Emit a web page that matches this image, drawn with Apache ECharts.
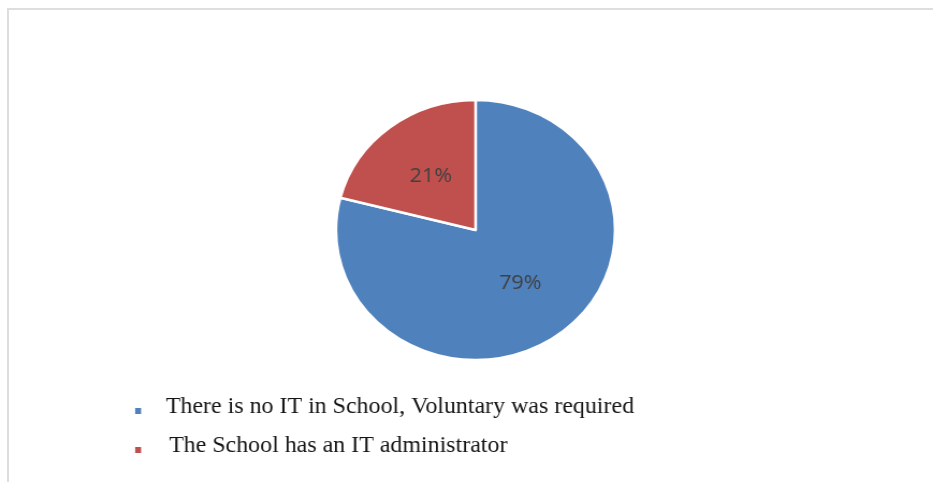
<!DOCTYPE html>
<html>
<head>
<meta charset="utf-8">
<title>IT administration in schools</title>
<script src="https://cdn.jsdelivr.net/npm/echarts@6/dist/echarts.min.js"></script>
<style>
  html, body { margin: 0; padding: 0; width: 933px; height: 482px; overflow: hidden; background: #ffffff; }
  #frame {
    position: absolute; left: 7px; top: 8px; right: 0; bottom: 0;
    border-left: 2px solid #dedede; border-top: 2px solid #dedede;
  }
  #chart {
    position: absolute; left: 0; top: 0; width: 869px; height: 482px;
    transform: scaleX(1.0737); transform-origin: 0 0;
  }
</style>
</head>
<body>
<div id="frame"></div>
<div id="chart"></div>
<script>
// Survey answers and their shares (percent)
const categories = [
  'There is no IT in School, Voluntary was required',
  'The School has an IT administrator'
];
const shares = [79, 21];
const sliceColors = ['#4f81bd', '#c0504d'];

const chart = echarts.init(document.getElementById('chart'), null, { renderer: 'canvas' });

const legendFont = {
  fontFamily: '"Liberation Serif", "DejaVu Serif", serif',
  fontSize: 22.3,
  lineHeight: 22,
  color: '#151515'
};

chart.setOption({
  animation: false,
  backgroundColor: 'transparent',
  color: sliceColors,
  legend: {
    orient: 'vertical',
    left: 123.9,
    top: 396,
    padding: 0,
    itemGap: 9,
    itemWidth: 7.5,
    itemHeight: 8,
    icon: 'rect',
    selectedMode: false,
    data: categories,
    // second entry sits a little further right
    formatter: function (name) {
      return categories.indexOf(name) === 0 ? '{t|' + name + '}' : '{u|' + name + '}';
    },
    textStyle: {
      rich: {
        t: Object.assign({ padding: [0, 0, 8, 17] }, legendFont),
        u: Object.assign({ padding: [0, 0, 8, 20] }, legendFont)
      }
    }
  },
  series: [{
    type: 'pie',
    center: [442.9, 230],
    radius: 130,
    startAngle: 90,
    clockwise: true,
    silent: true,
    itemStyle: { borderColor: '#ffffff', borderWidth: 2.5 },
    label: {
      show: true,
      position: 'inside',
      formatter: '{c}%',
      fontFamily: '"Open Sans", "Noto Sans", sans-serif',
      fontSize: 20,
      fontWeight: 500,
      color: '#404040'
    },
    labelLine: { show: false },
    data: categories.map((name, i) => ({ name: name, value: shares[i] }))
  }]
});
</script>
</body>
</html>
